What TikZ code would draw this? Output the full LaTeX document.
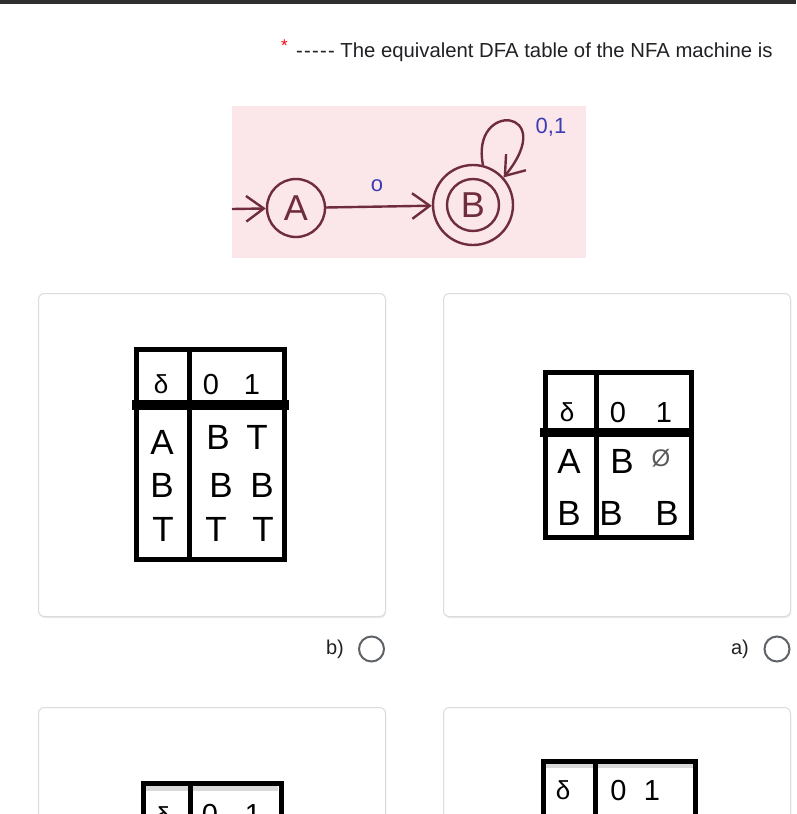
\documentclass[tikz,border=0pt]{standalone}
\usepackage{fontspec}
\setmainfont{Liberation Sans}
\usetikzlibrary{arrows.meta,shadows}
\definecolor{maroonink}{HTML}{6E2C3C}
\definecolor{blueink}{HTML}{3C3CB4}
\definecolor{pinkbg}{HTML}{FBE6E9}
\definecolor{cardline}{HTML}{DADCE0}
\definecolor{radiogray}{HTML}{5F6368}
\definecolor{titleink}{HTML}{202124}
\definecolor{topbar}{HTML}{2E2E2E}
\newcommand\pxsize[1]{\fontsize{#1}{#1}\selectfont}
\tikzset{
  card/.style={draw=cardline, line width=1, rounded corners=6, fill=white,
    drop shadow={shadow xshift=0.6pt, shadow yshift=-1.5pt, opacity=0.18},
    anchor=north west, inner sep=0, minimum width=347},
  hand/.style={draw=maroonink, line width=2.4},
  state/.style={circle, hand, inner sep=0, text=maroonink, font=\pxsize{36}},
  handlabel/.style={text=blueink, inner sep=0, font=\pxsize{22}},
  tline/.style={line width=5, line cap=rect},
  cell/.style={inner sep=0, font=\pxsize{35}},
  head/.style={inner sep=0, font=\pxsize{29}},
  delta/.style={inner sep=0, font=\pxsize{26}},
  radio/.style={circle, draw=radiogray, line width=2, minimum size=25, inner sep=0},
  optlabel/.style={inner sep=0, text=titleink, font=\pxsize{20}},
  barb/.style={-{Straight Barb[length=11pt, width=16pt, scale=1.6]}}
}
\begin{document}
\begin{tikzpicture}[x=1pt,y=-1pt]
\useasboundingbox (0,0) rectangle (796,814);
\clip (0,0) rectangle (796,814);
\fill[white] (0,0) rectangle (796,814);
\fill[topbar] (0,0) rectangle (796,3.5);

% title
\node[anchor=base east, text=red, inner sep=0, font=\pxsize{17}] (star) at (288,51) {*};
\node[anchor=base west, text=titleink, inner sep=0, font=\pxsize{20.3}] (title) at (296,57)
  {-\kern1.2pt-\kern1.2pt-\kern1.2pt-\kern1.2pt- The equivalent DFA table of the NFA machine is};

% NFA picture
\fill[pinkbg] (232,106) rectangle (586,258);
\coordinate (start) at (232,209);
\node[state, minimum size=58] (A) at (296,208) {A};
\node[circle, hand, minimum size=80, inner sep=0] (B) at (473,205) {};
\node[state, minimum size=52] (Bin) at (B.center) {B};
\draw[hand, barb] (start) -- (A);
\draw[hand, barb] (A) -- (B);
\node[handlabel] (lab0) at (377,186) {o};
\draw[hand, barb] (B.76) .. controls (470,100) and (560,108) .. (B.42);
\node[handlabel] (lab01) at (551,127) {0,1};

% cards
\node[card, minimum height=323] (cardb) at (38,293) {};
\node[card, minimum height=323] (carda) at (443,293) {};
\node[card, minimum height=200] (cardd) at (38,707) {};
\node[card, minimum height=200] (cardc) at (443,707) {};

% table b
\draw[tline] (136.5,349.5) rectangle (284.5,559.5);
\draw[tline] (189.5,349.5) -- (189.5,559.5);
\fill (132,400) rectangle (289,410);
\node[delta] (bd) at (161,384) {δ};
\node[head] (b0) at (211,385) {0};
\node[head] (b1) at (252,385) {1};
\node[cell] (bA) at (162,442) {A};
\node[cell] (bAB) at (218,437) {B};
\node[cell] (bAT) at (257,437) {T};
\node[cell] (bB) at (162,485) {B};
\node[cell] (bBB) at (221,485) {B};
\node[cell] (bBB2) at (262,485) {B};
\node[cell] (bT) at (163,529) {T};
\node[cell] (bTT) at (216,529) {T};
\node[cell] (bTT2) at (263,529) {T};

% table a
\draw[tline] (545,372.5) rectangle (691.5,537.5);
\draw[tline] (596,372.5) -- (596,537.5);
\fill (540,428) rectangle (694,437);
\node[delta] (ad) at (567,412) {δ};
\node[head] (a0) at (618,413) {0};
\node[head] (a1) at (664,413) {1};
\node[cell] (aA) at (569,461) {A};
\node[cell] (aAB) at (622,461) {B};
\node[inner sep=0, font=\pxsize{24}, text=black!65] (aAE) at (661,458) {Ø};
\node[cell] (aB) at (569,513) {B};
\node[cell] (aBB) at (611,513) {B};
\node[cell] (aBB2) at (667,513) {B};

% radio options
\node[optlabel] (optb) at (335,649) {b)};
\node[radio] (radb) at (371.5,649) {};
\node[optlabel] (opta) at (740,649) {a)};
\node[radio] (rada) at (777,649) {};

% table d (bottom left, cut by the page edge as in the reference)
\fill[black!15] (146,786) rectangle (278,791);
\draw[tline] (143,783) rectangle (281,900);
\draw[tline] (190.5,783) -- (190.5,900);
\node[delta, anchor=north] (dd) at (163,806) {δ};
\node[head, anchor=north] (d0) at (210,804) {0};
\node[head, anchor=north] (d1) at (253,804) {1};

% table c (bottom right, cut)
\fill[black!15] (546,764) rectangle (693,768);
\draw[tline] (543,761) rectangle (695.5,900);
\draw[tline] (595,761) -- (595,900);
\node[delta] (cd) at (563,790) {δ};
\node[head] (c0) at (618.5,791) {0};
\node[head] (c1) at (652,791) {1};
\end{tikzpicture}
\end{document}
